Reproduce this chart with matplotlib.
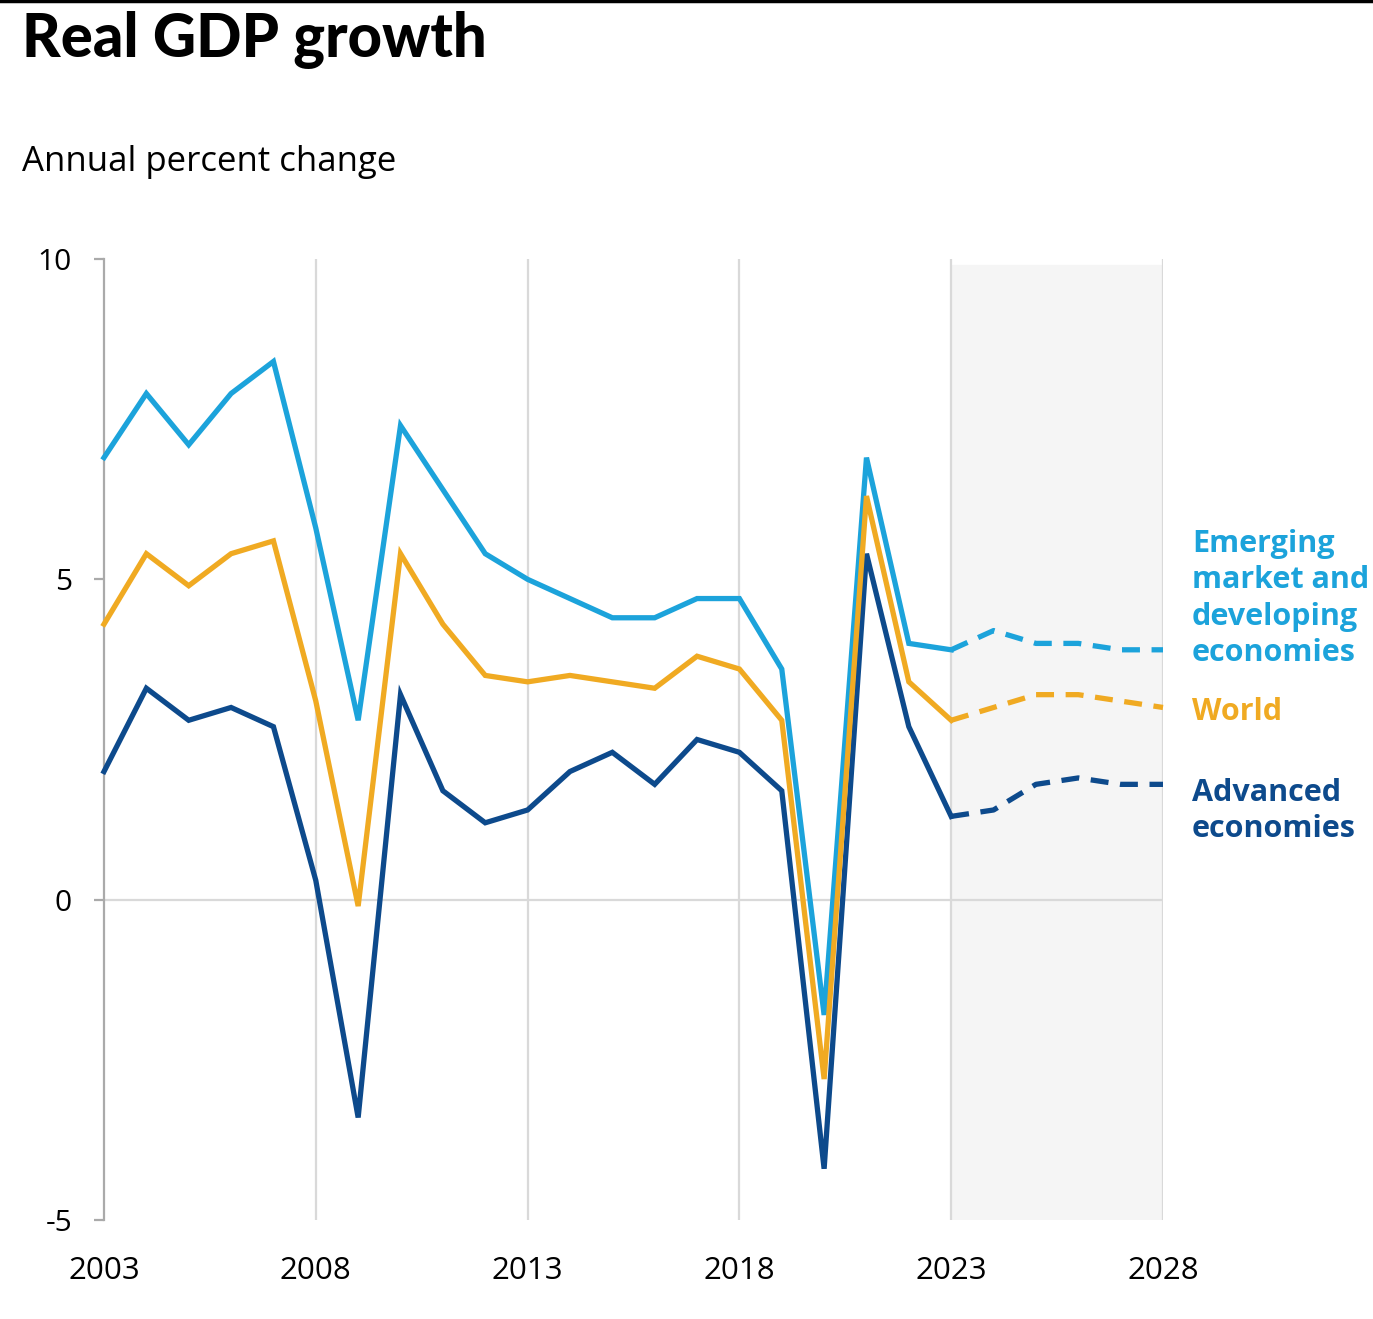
import matplotlib.pyplot as plt
from matplotlib.lines import Line2D

years = list(range(2003, 2029))
emde = [6.9, 7.9, 7.1, 7.9, 8.4, 5.8, 2.8, 7.4, 6.4, 5.4, 5.0, 4.7, 4.4,
        4.4, 4.7, 4.7, 3.6, -1.8, 6.9, 4.0, 3.9, 4.2, 4.0, 4.0, 3.9, 3.9]
world = [4.3, 5.4, 4.9, 5.4, 5.6, 3.1, -0.1, 5.4, 4.3, 3.5, 3.4, 3.5, 3.4,
         3.3, 3.8, 3.6, 2.8, -2.8, 6.3, 3.4, 2.8, 3.0, 3.2, 3.2, 3.1, 3.0]
advanced = [2.0, 3.3, 2.8, 3.0, 2.7, 0.3, -3.4, 3.2, 1.7, 1.2, 1.4, 2.0, 2.3,
            1.8, 2.5, 2.3, 1.7, -4.2, 5.4, 2.7, 1.3, 1.4, 1.8, 1.9, 1.8, 1.8]
last_actual = 2023
x_ticks = [2003, 2008, 2013, 2018, 2023, 2028]
y_ticks = [-5, 0, 5, 10]
y_tick_labels = ['-5', '0', '5', '10']

series = [
    ('Advanced\neconomies', advanced, '#0d4a8c', 1.38),
    ('Emerging\nmarket and\ndeveloping\neconomies', emde, '#1ca3db', 4.70),
    ('World', world, '#f0aa22', 2.93),
]

plt.rcParams['font.family'] = ['Open Sans', 'DejaVu Sans']

fig = plt.figure(figsize=(13.73, 13.19), dpi=100)
ax = fig.add_axes([104 / 1373, 1 - 1220 / 1319, 1059 / 1373, 961 / 1319])

# forecast shading and grid
ax.axvspan(last_actual, 2028, ymin=0, ymax=0.994, color='#f5f5f5', zorder=0)
for xt in x_ticks[1:]:
    ax.plot([xt, xt], [-5, 10], color='#d9d9d9', lw=1.6, zorder=1)
ax.plot([2003, 2028], [0, 0], color='#d9d9d9', lw=1.6, zorder=1)

n = years.index(last_actual) + 1
for name, vals, col, ylab in series:
    ax.plot(years[:n], vals[:n], color=col, lw=3.8, solid_joinstyle='miter',
            zorder=3, clip_on=False)
    ax.plot(years[n - 1:], vals[n - 1:], color=col, lw=3.8,
            linestyle=(0, (3.4, 2.2)), zorder=3, clip_on=False)
    ax.text(2028.68, ylab, name, color=col, fontsize=22, fontweight='bold',
            va='center', ha='left', linespacing=1.28)

ax.set_xlim(2003, 2028)
ax.set_ylim(-5, 10)
ax.set_xticks(x_ticks)
ax.set_xticklabels([str(x) for x in x_ticks], fontsize=22.5)
ax.tick_params(axis='x', length=0, pad=26)
ax.set_yticks(y_ticks)
ax.set_yticklabels(y_tick_labels, fontsize=21.5)
ax.tick_params(axis='y', length=7, width=1.6, color='#aaaaaa', pad=16)
for s in ['top', 'right', 'bottom']:
    ax.spines[s].set_visible(False)
ax.spines['left'].set_color('#aaaaaa')
ax.spines['left'].set_linewidth(1.6)

fig.text(22 / 1373, 1 - 40 / 1319, 'Real GDP growth', fontsize=43,
         fontweight='black', va='center', ha='left',
         family=['Lato', 'DejaVu Sans'])
fig.text(22 / 1373, 1 - 162 / 1319, 'Annual percent change', fontsize=25,
         va='center', ha='left')
fig.add_artist(Line2D([0, 1], [1 - 1 / 1319, 1 - 1 / 1319], color='black',
                      lw=2.5, transform=fig.transFigure))

plt.savefig('out.png', dpi=100)
